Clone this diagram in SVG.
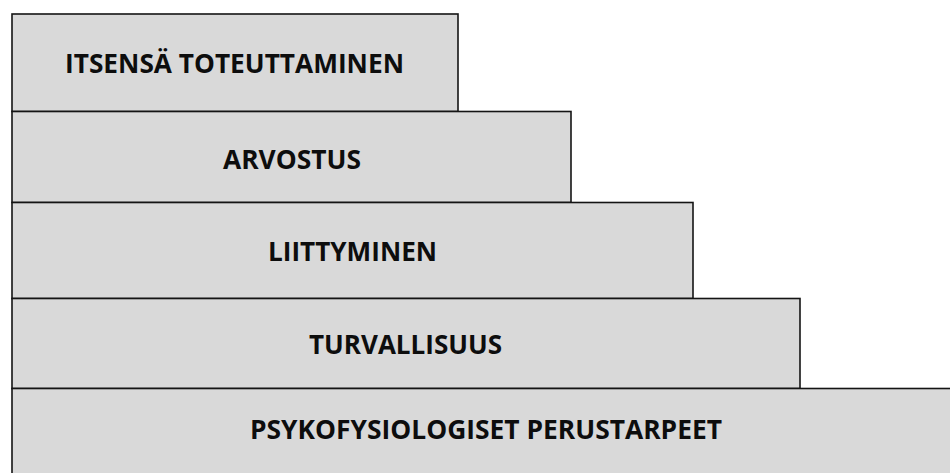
<svg xmlns="http://www.w3.org/2000/svg" width="950" height="473" viewBox="0 0 950 473">
<style>
.box{fill:#d9d9d9;stroke:#141414;stroke-width:1.6}
.lbl{font-family:"Open Sans","Liberation Sans",sans-serif;font-weight:700;font-size:26.5px;fill:#0d0d0d;text-anchor:middle}
</style>
<rect x="0" y="0" width="950" height="473" fill="#ffffff"/>
<g id="node-itsensa">
<rect class="box" x="12" y="14" width="446" height="97.5"/>
<text class="lbl" x="234.5" y="73" textLength="339" lengthAdjust="spacingAndGlyphs">ITSENSÄ TOTEUTTAMINEN</text>
</g>
<g id="node-arvostus">
<rect class="box" x="12" y="111.5" width="559" height="91"/>
<text class="lbl" x="292" y="169" textLength="138" lengthAdjust="spacingAndGlyphs">ARVOSTUS</text>
</g>
<g id="node-liittyminen">
<rect class="box" x="12" y="202.5" width="681" height="96"/>
<text class="lbl" x="352.5" y="261" textLength="169" lengthAdjust="spacingAndGlyphs">LIITTYMINEN</text>
</g>
<g id="node-turvallisuus">
<rect class="box" x="12" y="298.5" width="788" height="90"/>
<text class="lbl" x="405.5" y="354" textLength="193" lengthAdjust="spacingAndGlyphs">TURVALLISUUS</text>
</g>
<g id="node-psykofysiologiset">
<rect class="box" x="12" y="388.5" width="960" height="100"/>
<text class="lbl" x="486" y="439" textLength="472" lengthAdjust="spacingAndGlyphs">PSYKOFYSIOLOGISET PERUSTARPEET</text>
</g>
<g id="connectors"></g>
</svg>
